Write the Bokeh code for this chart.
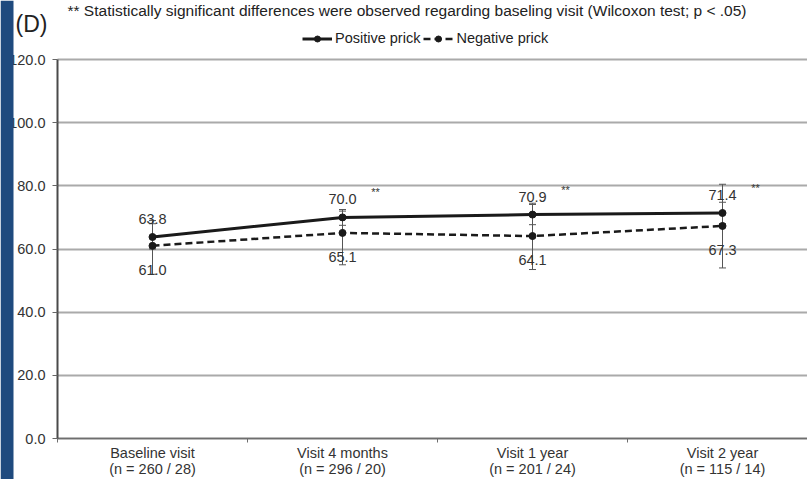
from bokeh.plotting import figure
from bokeh.models import (Range1d, FixedTicker, PrintfTickFormatter, Whisker, TeeHead,
                          ColumnDataSource, Legend, LegendItem, Label, BoxAnnotation)
from bokeh.core.properties import value
from bokeh.embed import file_html
from bokeh.resources import INLINE

# ---------------- data ----------------
visits = ["Baseline visit", "Visit 4 months", "Visit 1 year", "Visit 2 year"]
n_counts = ["260 / 28", "296 / 20", "201 / 24", "115 / 14"]
positive = [63.8, 70.0, 70.9, 71.4]
positive_low = [60.0, 67.5, 67.7, 68.0]
positive_high = [68.0, 72.5, 74.1, 74.8]
negative = [61.0, 65.1, 64.1, 67.3]
negative_low = [52.0, 55.0, 53.5, 54.0]
negative_high = [69.0, 72.0, 74.5, 80.5]
significant = [False, True, True, True]
y_ticks = [0, 20, 40, 60, 80, 100, 120]
title_text = ("** Statistically significant differences were observed regarding "
              "baseling visit (Wilcoxon test; p < .05)")

FONT = "Liberation Sans"
xpos = [i + 0.5 for i in range(len(visits))]
x_labels = {x: f"{v}\n(n = {n})" for x, v, n in zip(xpos, visits, n_counts)}

src = ColumnDataSource(dict(
    x=xpos, pos=positive, pl=positive_low, ph=positive_high,
    neg=negative, nl=negative_low, nh=negative_high,
    pos_txt=[f"{v:.1f}" for v in positive], neg_txt=[f"{v:.1f}" for v in negative],
))
sig_src = ColumnDataSource(dict(
    x=[x for x, s in zip(xpos, significant) if s],
    y=[v for v, s in zip(positive, significant) if s],
    t=["**" for s in significant if s],
))

# ---------------- layout geometry (pixels) ----------------
W, H = 807, 479
AX_X, AX_Y0, AX_Y120 = 57, 438, 59          # y axis at x=57 px; value 0 at 438 px, 120 at 59 px
CAT_W = 190                                  # width of one visit category in px
PX_PER_UNIT = (AX_Y0 - AX_Y120) / 120
x_range = Range1d(-AX_X / CAT_W, (W - AX_X) / CAT_W)
y_range = Range1d(-(H - AX_Y0) / PX_PER_UNIT, AX_Y0 / PX_PER_UNIT)

p = figure(width=W, height=H, x_range=x_range, y_range=y_range,
           output_backend="svg", toolbar_location=None, min_border=0)
p.title.visible = False
p.outline_line_color = None
p.background_fill_color = "white"
p.border_fill_color = "white"

# grid
p.xgrid.grid_line_color = None
p.ygrid.ticker = FixedTicker(ticks=y_ticks)
p.ygrid.grid_line_color = "#aaaaaa"
p.ygrid.grid_line_width = 2
grid = p.ygrid[0]
if "cross_bounds" in grid.properties():
    grid.cross_bounds = (0, x_range.end)
else:
    p.ygrid.grid_line_color = None
    p.segment(x0=0, x1=x_range.end, y0=y_ticks, y1=y_ticks, line_color="#aaaaaa", line_width=2)

# y axis (drawn at x = 0, labels to its left)
yax = p.yaxis[0]
yax.fixed_location = 0
yax.bounds = (0, 120)
yax.ticker = FixedTicker(ticks=y_ticks)
yax.formatter = PrintfTickFormatter(format="%.1f")
yax.axis_line_color = "#4a4a4a"
yax.axis_line_width = 2
yax.major_tick_out = 5
yax.major_tick_in = 0
yax.major_tick_line_color = "#666666"
yax.minor_tick_line_color = None
yax.major_label_text_font = FONT
yax.major_label_text_font_size = "14.5px"
yax.major_label_text_color = "#333333"
yax.major_label_standoff = 7

# x axis (drawn at y = 0)
xax = p.xaxis[0]
xax.fixed_location = 0
xax.bounds = (0, 4)
xax.ticker = FixedTicker(ticks=xpos, minor_ticks=[0, 1, 2, 3, 4])
xax.major_label_overrides = x_labels
xax.axis_line_color = "#6e6e6e"
xax.axis_line_width = 1.5
xax.major_tick_line_color = None
xax.major_tick_out = 0
xax.minor_tick_out = 4
xax.minor_tick_in = 0
xax.minor_tick_line_color = "#6e6e6e"
xax.major_label_text_font = FONT
xax.major_label_text_font_size = "14.5px"
xax.major_label_text_line_height = 1.05
xax.major_label_text_color = "#333333"
xax.major_label_standoff = 2

# error bars
for lo, hi in (("pl", "ph"), ("nl", "nh")):
    p.add_layout(Whisker(source=src, base="x", lower=lo, upper=hi,
                         line_color="#555555", line_width=1,
                         upper_head=TeeHead(size=7, line_color="#555555", line_width=1),
                         lower_head=TeeHead(size=7, line_color="#555555", line_width=1)))

pl_r = p.line("x", "pos", source=src, line_color="#1a1a1a", line_width=3)
ps_r = p.scatter("x", "pos", source=src, size=7, color="#1a1a1a")
nl_r = p.line("x", "neg", source=src, line_color="#1a1a1a", line_width=2.5, line_dash="7 4")
ns_r = p.scatter("x", "neg", source=src, size=7, color="#1a1a1a")

# value labels
p.text("x", "pos", text="pos_txt", source=src, y_offset=-18, text_align="center",
       text_baseline="middle", text_font=value(FONT), text_font_size="14.5px", text_color="#333333")
p.text("x", "neg", text="neg_txt", source=src, y_offset=24, text_align="center",
       text_baseline="middle", text_font=value(FONT), text_font_size="14.5px", text_color="#333333")
p.text("x", "y", text="t", source=sig_src, x_offset=33, y_offset=-25, text_align="center",
       text_baseline="middle", text_font=value(FONT), text_font_size="11px", text_color="#333333")

# legend (screen position measured from the frame's bottom-left corner)
legend = Legend(items=[LegendItem(label="Positive prick", renderers=[pl_r, ps_r]),
                       LegendItem(label="Negative prick", renderers=[nl_r, ns_r])],
                orientation="horizontal", location=(302, H - 46),
                border_line_color=None, background_fill_alpha=0, padding=0, margin=0,
                spacing=3, glyph_width=30, glyph_height=15, label_height=15,
                label_standoff=3, label_text_font=FONT, label_text_font_size="14.5px",
                label_text_color="#222222")
p.add_layout(legend)

# header texts
p.add_layout(Label(x=67, y=H - 1, x_units="screen", y_units="screen", text=title_text,
                   text_baseline="top", text_font=FONT, text_font_size="15.5px",
                   text_color="#222222"))
p.add_layout(Label(x=15, y=H - 23, x_units="screen", y_units="screen", text="(D)",
                   text_baseline="middle", text_font=FONT, text_font_size="23px",
                   text_color="#222222"))

# blue side bar drawn over the left edge of the page
p.add_layout(BoxAnnotation(right=13, right_units="canvas", fill_color="#1f4a7e", fill_alpha=1,
                           line_alpha=0, level="overlay"))

open("out.html", "w").write(file_html(p, INLINE))
